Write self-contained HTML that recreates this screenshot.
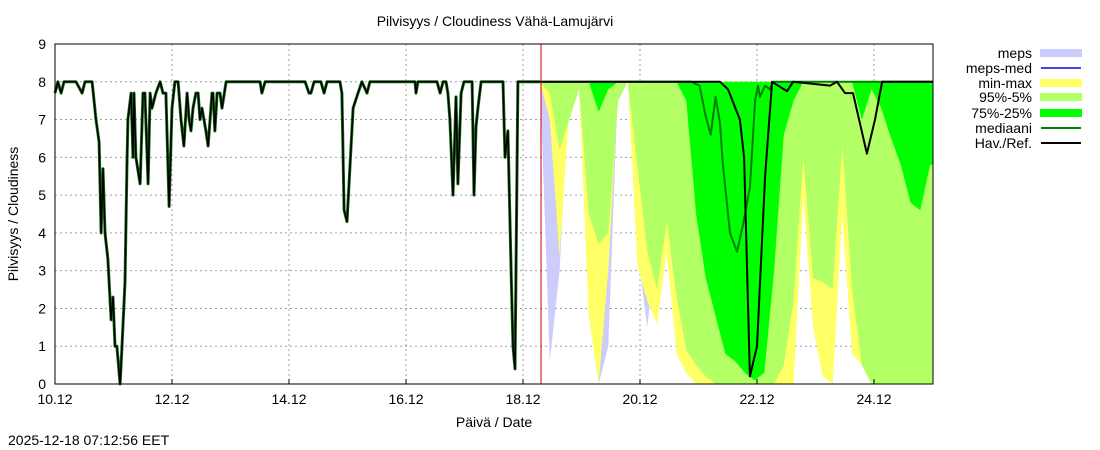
<!DOCTYPE html>
<html><head><meta charset="utf-8">
<style>
body{margin:0;background:#fff;}
svg{display:block;font-family:"Liberation Sans",sans-serif;}
</style></head>
<body>
<svg id="chart" width="1100" height="450" viewBox="0 0 1100 450" xmlns="http://www.w3.org/2000/svg">
<rect width="1100" height="450" fill="#fff"/>
<text x="495" y="26" font-size="14" text-anchor="middle">Pilvisyys / Cloudiness Vähä-Lamujärvi</text>
<text transform="translate(18,214) rotate(-90)" font-size="14" text-anchor="middle">Pilvisyys / Cloudiness</text>
<text x="494" y="427" font-size="14" text-anchor="middle">Päivä / Date</text>
<text x="8" y="445" font-size="14">2025-12-18 07:12:56 EET</text>
<g id="grid"></g>
<g id="bands"></g>
<g id="lines"></g>
<g id="axes"></g>
<g id="legend"></g>
</svg>
<script>
const yTicks=[0,1,2,3,4,5,6,7,8,9];
const xTickLabels=["10.12","12.12","14.12","16.12","18.12","20.12","22.12","24.12"];
const xTickHours=[0,48,96,144,192,240,288,336];
const obsHours=[0,1.2,2.5,3.7,8.6,11.1,12.3,15.2,16.8,18.1,18.9,19.7,20.5,21.7,23,23.8,24.6,25.4,26.7,27.5,28.7,29.5,29.9,31.2,32,32.4,33.2,34.9,36.1,36.9,38.2,39,39.8,41.4,43.1,44.3,45.5,46.8,48,49.2,50.5,51.7,52.9,54.2,55,55.8,56.6,57.8,58.7,59.5,60.3,61.9,62.8,64.4,64.8,65.6,66.5,67.7,68.5,70.2,84.1,84.9,86.2,102.6,104.2,105,106.3,109.1,110.4,111.6,116.9,117.7,118.6,119.8,122.3,124.3,125.9,128,129.2,147.7,148.1,148.9,156.7,158,159.2,160.4,161.2,162,163.3,164.5,165.3,166.6,167.8,171.1,171.9,172.7,173.5,174.8,183.8,184.6,185.8,187.1,187.9,188.7,189.9,199];
const obsValues=[7.7,8,7.7,8,8,7.7,8,8,7,6.4,4,5.7,4,3.3,1.7,2.3,1,1,0,1,2.7,5.7,7,7.7,6,7.7,6,5.3,7.7,7.7,5.3,7.7,7.3,7.7,8,7.7,7.7,4.7,7.3,8,8,7,6.3,7.7,7,6.7,7.3,7.7,7.7,7,7.3,6.7,6.3,7.7,7.7,6.7,7.7,7.7,7.3,8,8,7.7,8,8,7.7,7.7,8,8,7.7,8,8,7.7,4.6,4.3,7.3,7.7,8,7.7,8,8,7.7,8,8,7.7,8,8,7.7,7.0,5,7.6,5.3,7.7,8,8,5,6.8,7.3,8,8,6,6.7,3,1,0.4,8,8];
const fcStart=199, fcStep=4;
const mepsLow=[8,0.6,3.0,8,8,5,0,1.0,8,8,3.5,1.5,4,5,4.5,8,8,8,8,8,8,8,8,8,8,8,8,8,8,8,8,8,8,8,8,8,8,8,8,8,8];
const minmaxLow=[8,7.0,3.4,7.3,7.8,1.8,0,3.0,7.8,8,3.1,2.2,1.6,3.5,0.8,0.3,0,0,0,0,0,0,0,0,0,0,0,5.0,1.5,0.2,0,4.5,0.8,0.5,0,0,0,0,0,0,0];
const p95Low=[8,7.7,6.2,7.0,7.8,4.5,3.7,4.0,7.5,8,5.7,3.5,2.5,4.3,2.3,0.9,0.5,0.2,0,0,0,0,0,0,0,0.5,2.2,6.0,2.8,2.7,2.5,6.3,2.5,0.5,0,0,0,0,0,0,0];
const p75Low=[8,8,8,8,8,8,7.2,7.8,8,8,8,8,8,8,8,7.5,4.5,2.8,1.8,0.8,0.6,0.3,0.1,0.3,3,6.6,7.5,8,8,8,8,8,8,7.0,7.8,7.3,6.5,5.8,4.8,4.6,5.8];
const medHours=[199,261,264.4,266.9,269,271,272.8,274,276.9,279.8,282.2,285.1,287.2,288.4,289.2,291.3,293.3,294.6,360.2];
const medValues=[8,8,7.9,7.1,6.6,7.6,6.9,5.8,4.0,3.5,4.2,5.2,7.5,7.9,7.6,7.9,7.8,8,8];
const refHours=[199,272.8,276.1,281,282.7,285.1,288,291.3,294.2,300.3,302.8,318,320.8,324.1,327.4,333.1,336.4,339.3,360.2];
const refValues=[8,8,7.8,7.0,6.0,0.2,1.0,5.5,8,7.75,8,7.9,8,7.7,7.7,6.1,7.0,8,8];

const X0=55,X1=933,Y0=384,Y1=44,HMAX=360.2;
const sx=h=>X0+h*(X1-X0)/HMAX;
const sy=v=>Y0-v*(Y0-Y1)/9;
const NS="http://www.w3.org/2000/svg";
function mk(tag,parent,attrs){const e=document.createElementNS(NS,tag);for(const k in attrs)e.setAttribute(k,attrs[k]);parent.appendChild(e);return e;}
const grid=document.getElementById('grid'),bands=document.getElementById('bands'),lines=document.getElementById('lines'),axes=document.getElementById('axes'),legend=document.getElementById('legend');

yTicks.forEach(v=>{
  if(v>0&&v<9){const g=mk('line',grid,{x1:X0,x2:X1,y1:sy(v),y2:sy(v),stroke:'#a0a0a0','stroke-dasharray':'2,3','stroke-width':1});
  
  }
  const t=mk('text',axes,{x:X0-9,y:sy(v)+5,'font-size':14,'text-anchor':'end'});t.textContent=v;
  
  
});
xTickHours.forEach((h,i)=>{
  if(i>0){const g=mk('line',grid,{x1:sx(h),x2:sx(h),y1:Y1,y2:Y0,stroke:'#a0a0a0','stroke-dasharray':'2,3','stroke-width':1});
  
  }
  mk('line',axes,{x1:sx(h),x2:sx(h),y1:Y0,y2:Y0-5,stroke:'#000'});
  const t=mk('text',axes,{x:sx(h),y:Y0+20,'font-size':14,'text-anchor':'middle'});t.textContent=xTickLabels[i];
  
  
});

function band(low,color,name){
  let d='M'+sx(fcStart)+','+sy(8);
  low.forEach((v,i)=>{d+=' L'+sx(Math.min(HMAX,fcStart+i*fcStep)).toFixed(1)+','+sy(v).toFixed(1);});
  d+=' L'+sx(HMAX)+','+sy(low[low.length-1]).toFixed(1)+' L'+sx(HMAX)+','+sy(8)+' Z';
  const p=mk('path',bands,{d:d,fill:color});
  
  
}
band(mepsLow,'#ccccff','meps-band');
band(minmaxLow,'#ffff66','min-max-band');
band(p95Low,'#b3ff66','p95-p5-band');
band(p75Low,'#00ff00','p75-p25-band');

function line(hs,vs,color,w,name){
  const pts=hs.map((h,i)=>sx(h).toFixed(1)+','+sy(vs[i]).toFixed(1)).join(' ');
  const p=mk('polyline',lines,{points:pts,fill:'none',stroke:color,'stroke-width':w,'stroke-linejoin':'round'});
  
  
}
line(obsHours,obsValues,'#1a6b1a',3,'observed-median-line');
line(obsHours,obsValues,'#000',1.5,'observed-line');
line(medHours,medValues,'#008000',2,'median-line');
line(refHours,refValues,'#000',2,'reference-line');
const nowLine=mk('line',lines,{x1:541,x2:541,y1:Y1,y2:Y0,stroke:'#cc0000','stroke-width':1});


const frame=mk('rect',axes,{x:X0,y:Y1,width:X1-X0,height:Y0-Y1,fill:'none',stroke:'#000','stroke-width':1});



const legItems=[["meps","#ccccff","box"],["meps-med","#4444ee","line"],["min-max","#ffff66","box"],["95%-5%","#b3ff66","box"],["75%-25%","#00ff00","box"],["mediaani","#008000","line"],["Hav./Ref.","#000","line"]];
const legY=[53,68,83,97,113,128,143];
legItems.forEach((it,i)=>{
  const y=legY[i];
  const t=mk('text',legend,{x:1032,y:y+5,'font-size':14,'text-anchor':'end'});t.textContent=it[0];
  
  
  if(it[2]==='box'){const r=mk('rect',legend,{x:1040,y:y-4,width:42,height:8,fill:it[1]});
    
    }
  else{const l=mk('line',legend,{x1:1041,x2:1081,y1:y,y2:y,stroke:it[1],'stroke-width':2});
    
    }
});
</script>
</body></html>
